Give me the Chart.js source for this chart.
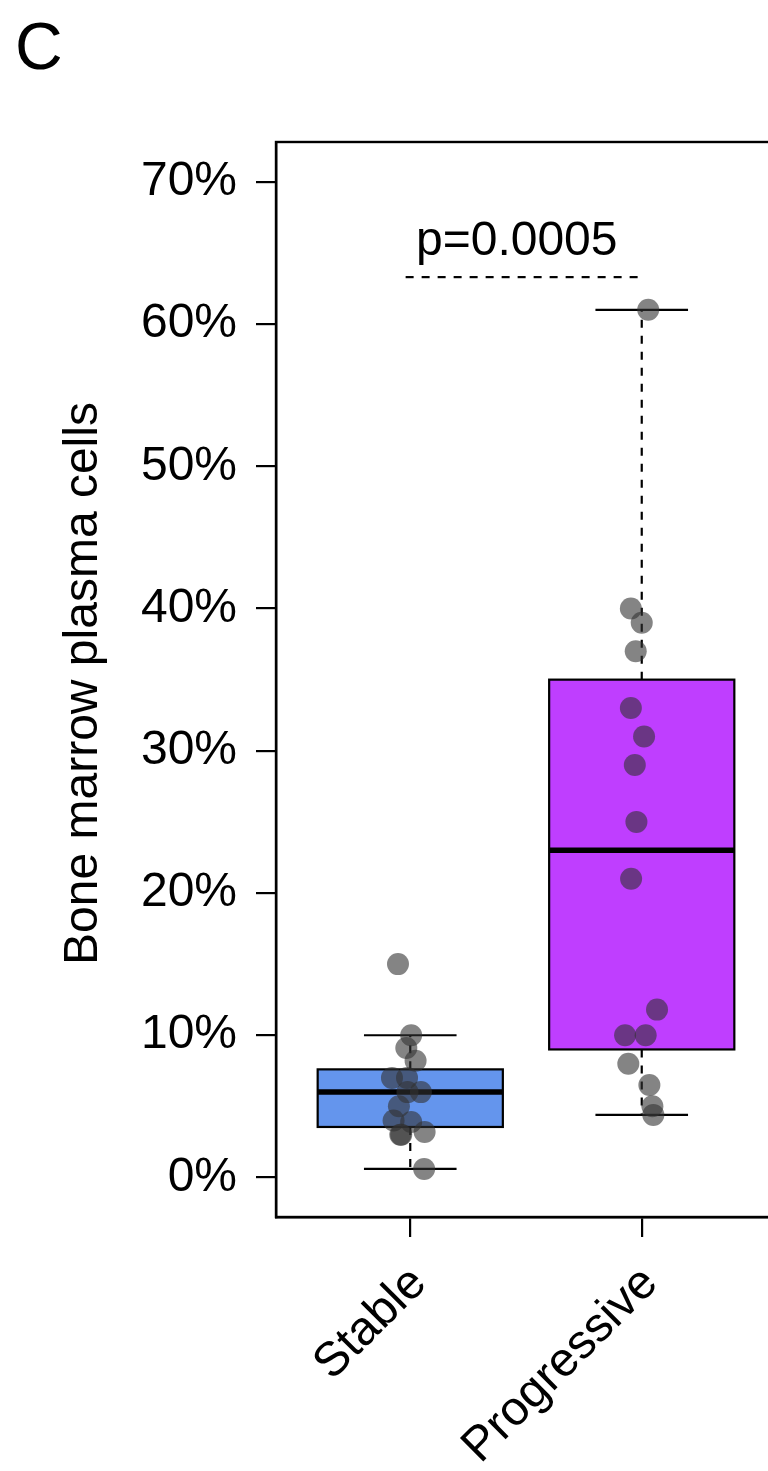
<!DOCTYPE html>
<html>
<head>
<meta charset="utf-8">
<script src="https://cdn.jsdelivr.net/npm/chart.js@4.4.1/dist/chart.umd.min.js"></script>
<style>
  html, body { margin: 0; padding: 0; background: #ffffff; overflow: hidden; }
  #wrap { position: relative; width: 800px; height: 1471px; }
</style>
</head>
<body>
<div id="wrap"><canvas id="c"></canvas></div>
<script>
// Bone marrow plasma cell percentages by disease course
const categories = ['Stable', 'Progressive'];
const stableValues = [15, 10, 9.1, 8.2, 7, 7, 6, 6, 5, 4, 3.9, 3, 3, 3.2, 0.6];
const stableJitter = [-0.053, 0.004, -0.017, 0.023, -0.079, -0.014, -0.012, 0.046, -0.049, -0.072, 0.004, -0.043, -0.039, 0.062, 0.060];
const progressiveValues = [61, 40, 39, 37, 33, 31, 29, 25, 21, 11.8, 10, 10, 8, 6.5, 5, 4.4];
const progressiveJitter = [0.028, -0.047, 0, -0.026, -0.047, 0.010, -0.030, -0.023, -0.046, 0.066, -0.072, 0.017, -0.058, 0.033, 0.046, 0.050];
// lower whisker, lower hinge, median, upper hinge, upper whisker
const stableBox = [0.6, 3.55, 6, 7.6, 10];
const progressiveBox = [4.4, 9, 23, 35, 61];
const yTicks = [0, 10, 20, 30, 40, 50, 60, 70];
const pValueLabel = 'p=0.0005';
const pValueLevel = 63.3;
const yTitle = 'Bone marrow plasma cells';
const panelLetter = 'C';

const FONT = '"Liberation Sans", Arial, Helvetica, sans-serif';
const FONT_SIZE = 48;
const boxColors = ['#6495ED', '#BF3EFF'];
const boxes = [stableBox, progressiveBox];

function toPoints(values, jitter, pos) {
  return values.map((v, i) => ({ x: pos + jitter[i], y: v }));
}

const boxPlugin = {
  id: 'boxes',
  beforeDatasetsDraw(chart) {
    const ctx = chart.ctx;
    const xs = chart.scales.x, ys = chart.scales.y;
    boxes.forEach((b, i) => {
      const pos = i + 1;
      const xl = xs.getPixelForValue(pos - 0.4), xr = xs.getPixelForValue(pos + 0.4);
      const cl = xs.getPixelForValue(pos - 0.2), cr = xs.getPixelForValue(pos + 0.2);
      const xc = xs.getPixelForValue(pos);
      const [lo, q1, med, q3, hi] = b.map(v => ys.getPixelForValue(v));
      ctx.save();
      ctx.strokeStyle = '#000';
      // whiskers
      ctx.lineWidth = 2.2;
      ctx.setLineDash([8, 8]);
      ctx.beginPath();
      ctx.moveTo(xc, q3); ctx.lineTo(xc, hi);
      ctx.moveTo(xc, q1); ctx.lineTo(xc, lo);
      ctx.stroke();
      ctx.setLineDash([]);
      ctx.beginPath();
      ctx.moveTo(cl, hi); ctx.lineTo(cr, hi);
      ctx.moveTo(cl, lo); ctx.lineTo(cr, lo);
      ctx.stroke();
      // box
      ctx.fillStyle = boxColors[i];
      ctx.fillRect(xl, q3, xr - xl, q1 - q3);
      ctx.strokeRect(xl, q3, xr - xl, q1 - q3);
      // median
      ctx.lineWidth = 5.5;
      ctx.beginPath();
      ctx.moveTo(xl, med); ctx.lineTo(xr, med);
      ctx.stroke();
      ctx.restore();
    });
  },
  afterDraw(chart) {
    const ctx = chart.ctx;
    const xs = chart.scales.x, ys = chart.scales.y;
    const a = chart.chartArea;
    ctx.save();
    // plot frame
    ctx.strokeStyle = '#000';
    ctx.lineWidth = 2.4;
    ctx.strokeRect(a.left, a.top, a.right - a.left, a.bottom - a.top);
    // significance bracket
    const py = ys.getPixelForValue(pValueLevel);
    ctx.lineWidth = 2.2;
    ctx.setLineDash([8, 8]);
    ctx.beginPath();
    ctx.moveTo(xs.getPixelForValue(0.98), py);
    ctx.lineTo(xs.getPixelForValue(1.99), py);
    ctx.stroke();
    ctx.setLineDash([]);
    ctx.fillStyle = '#000';
    ctx.font = FONT_SIZE + 'px ' + FONT;
    ctx.textAlign = 'center';
    ctx.textBaseline = 'alphabetic';
    ctx.fillText(pValueLabel, xs.getPixelForValue(1.46), py - 22);
    // rotated category labels
    categories.forEach((c, i) => {
      ctx.save();
      ctx.translate(xs.getPixelForValue(i + 1) + 18, a.bottom + 68);
      ctx.rotate(-Math.PI / 4);
      ctx.textAlign = 'right';
      ctx.textBaseline = 'alphabetic';
      ctx.fillText(c, 0, 0);
      ctx.restore();
    });
    // y-axis title
    ctx.save();
    ctx.translate(97, (a.top + a.bottom) / 2 + 4);
    ctx.rotate(-Math.PI / 2);
    ctx.textAlign = 'center';
    ctx.fillText(yTitle, 0, 0);
    ctx.restore();
    // panel letter
    ctx.font = '66px ' + FONT;
    ctx.textAlign = 'left';
    ctx.fillText(panelLetter, 15, 69);
    ctx.restore();
  }
};

new Chart(document.getElementById('c'), {
  type: 'scatter',
  data: {
    datasets: [
      { label: categories[0], data: toPoints(stableValues, stableJitter, 1) },
      { label: categories[1], data: toPoints(progressiveValues, progressiveJitter, 2) }
    ]
  },
  options: {
    responsive: true,
    maintainAspectRatio: false,
    animation: false,
    events: [],
    layout: { padding: { top: 142, right: 24, left: 0, bottom: 0 } },
    elements: {
      point: { radius: 11, backgroundColor: 'rgba(50,50,50,0.6)', borderWidth: 0, hoverRadius: 11 }
    },
    plugins: { legend: { display: false }, tooltip: { enabled: false } },
    scales: {
      x: {
        type: 'linear',
        min: 0.42,
        max: 2.58,
        afterBuildTicks(s) { s.ticks = categories.map((c, i) => ({ value: i + 1 })); },
        afterFit(s) { s.height = 254; },
        ticks: { display: false },
        grid: { drawOnChartArea: false, drawTicks: true, tickLength: 20, color: '#000', lineWidth: 2.2 },
        border: { display: true, color: '#000', width: 2.4 }
      },
      y: {
        type: 'linear',
        min: -2.78,
        max: 72.8,
        afterBuildTicks(s) { s.ticks = yTicks.map(v => ({ value: v })); },
        afterFit(s) { s.width = 276; },
        ticks: {
          color: '#000',
          padding: 19,
          font: { family: FONT, size: FONT_SIZE },
          callback: v => v + '%'
        },
        grid: { drawOnChartArea: false, drawTicks: true, tickLength: 20, color: '#000', lineWidth: 2.2 },
        border: { display: true, color: '#000', width: 2.4 }
      }
    }
  },
  plugins: [boxPlugin]
});
</script>
</body>
</html>
